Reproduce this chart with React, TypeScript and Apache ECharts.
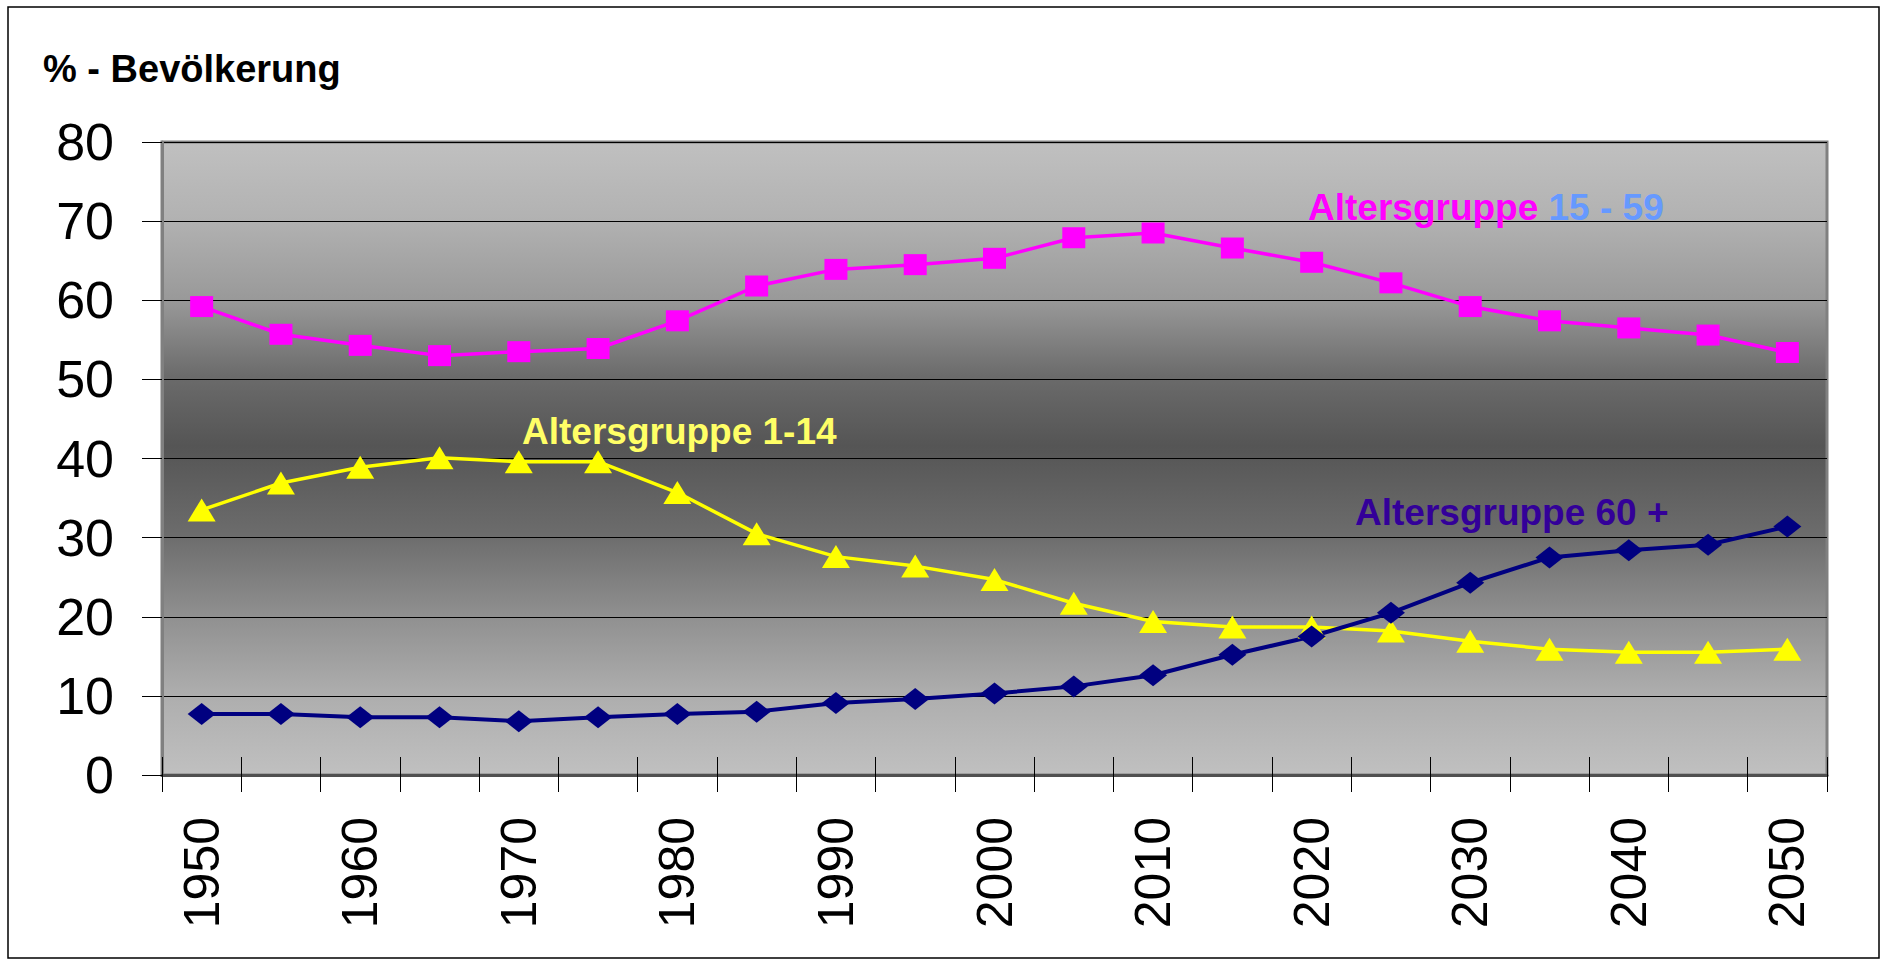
import React, { useEffect, useRef } from "react";
import * as echarts from "echarts";

const years = [
  "1950", "1955", "1960", "1965", "1970", "1975", "1980", "1985", "1990", "1995", "2000",
  "2005", "2010", "2015", "2020", "2025", "2030", "2035", "2040", "2045", "2050",
];
const group15to59 = [
  59.2, 55.7, 54.3, 53.0, 53.5, 53.9, 57.4, 61.8, 63.9, 64.5, 65.3,
  67.9, 68.5, 66.6, 64.8, 62.2, 59.2, 57.4, 56.5, 55.6, 53.4,
];
const group1to14 = [
  33.5, 36.9, 38.9, 40.1, 39.6, 39.6, 35.7, 30.5, 27.6, 26.4, 24.7,
  21.7, 19.4, 18.7, 18.7, 18.2, 16.9, 15.9, 15.5, 15.5, 15.9,
];
const group60plus = [
  7.7, 7.7, 7.3, 7.3, 6.8, 7.3, 7.7, 8.0, 9.1, 9.6, 10.3,
  11.2, 12.6, 15.2, 17.5, 20.5, 24.3, 27.5, 28.4, 29.1, 31.4,
];
const yMin = 0;
const yMax = 80;
const yStep = 10;

const FONT = "'Liberation Sans', Arial, sans-serif";

export default function App() {
  const ref = useRef<HTMLDivElement>(null);
  useEffect(() => {
    const chart = echarts.init(ref.current!, null, { renderer: "svg" });
    chart.setOption({
      animation: false,
      backgroundColor: "#ffffff",
      grid: {
        left: 162,
        top: 142,
        width: 1665,
        height: 633,
        show: true,
        borderColor: "#808080",
        borderWidth: 3,
        backgroundColor: new echarts.graphic.LinearGradient(0, 0, 0, 1, [
          { offset: 0, color: "#c0c0c0" },
          { offset: 0.12, color: "#b2b2b2" },
          { offset: 0.25, color: "#999999" },
          { offset: 0.37, color: "#6b6b6b" },
          { offset: 0.48, color: "#555555" },
          { offset: 0.62, color: "#6c6c6c" },
          { offset: 0.75, color: "#909090" },
          { offset: 0.87, color: "#adadad" },
          { offset: 1, color: "#c0c0c0" },
        ]),
      },
      xAxis: [
        {
          type: "category",
          data: years,
          boundaryGap: true,
          position: "bottom",
          axisLine: { show: true, lineStyle: { color: "#505050", width: 3 } },
          axisTick: { show: true, interval: 0, length: 17, lineStyle: { color: "#000", width: 1 } },
          axisLabel: {
            interval: 1,
            rotate: 90,
            margin: 42,
            fontSize: 50,
            fontFamily: FONT,
            color: "#000",
          },
          splitLine: { show: false },
        },
        {
          type: "category",
          data: years,
          boundaryGap: true,
          position: "bottom",
          axisLine: { show: false },
          axisTick: { show: true, inside: true, interval: 0, length: 18, lineStyle: { color: "#000", width: 1 } },
          axisLabel: { show: false },
          splitLine: { show: false },
        },
      ],
      yAxis: {
        type: "value",
        min: yMin,
        max: yMax,
        interval: yStep,
        axisLine: { show: true, lineStyle: { color: "#808080", width: 3 } },
        axisTick: { show: true, length: 20, lineStyle: { color: "#000", width: 1 } },
        axisLabel: { margin: 48, fontSize: 52, fontFamily: FONT, color: "#000" },
        splitLine: { show: true, lineStyle: { color: "#000", width: 1 } },
      },
      series: [
        {
          name: "Altersgruppe 15 - 59",
          type: "line",
          data: group15to59,
          symbol: "rect",
          symbolSize: [23, 21],
          lineStyle: { color: "#ff00ff", width: 3.5 },
          itemStyle: { color: "#ff00ff" },
        },
        {
          name: "Altersgruppe 1-14",
          type: "line",
          data: group1to14,
          symbol: "triangle",
          symbolSize: [28, 23],
          lineStyle: { color: "#ffff00", width: 3.5 },
          itemStyle: { color: "#ffff00" },
        },
        {
          name: "Altersgruppe 60 +",
          type: "line",
          data: group60plus,
          symbol: "diamond",
          symbolSize: [28, 22],
          lineStyle: { color: "#000080", width: 4 },
          itemStyle: { color: "#000080" },
        },
      ],
      graphic: [
        {
          type: "rect",
          shape: { x: 8, y: 7, width: 1871, height: 951 },
          style: { fill: "none", stroke: "#000", lineWidth: 1.5 },
          silent: true,
        },
        {
          type: "text",
          x: 43,
          y: 69,
          style: {
            text: "% - Bevölkerung",
            font: `bold 38px ${FONT}`,
            fill: "#000",
            verticalAlign: "middle",
          },
        },
        {
          type: "text",
          x: 1308,
          y: 207,
          z: 10,
          style: {
            text: "{a|Altersgruppe }{b|15 - 59}",
            verticalAlign: "middle",
            rich: {
              a: { fontSize: 37, fontWeight: "bold", fontFamily: FONT, fill: "#ff00ff", color: "#ff00ff" },
              b: { fontSize: 37, fontWeight: "bold", fontFamily: FONT, fill: "#6699ff", color: "#6699ff" },
            },
          },
        },
        {
          type: "text",
          x: 522,
          y: 431,
          z: 10,
          style: {
            text: "Altersgruppe 1-14",
            font: `bold 37px ${FONT}`,
            fill: "#ffff66",
            verticalAlign: "middle",
          },
        },
        {
          type: "text",
          x: 1355,
          y: 512,
          z: 10,
          style: {
            text: "Altersgruppe 60 +",
            font: `bold 37px ${FONT}`,
            fill: "#330099",
            verticalAlign: "middle",
          },
        },
      ],
    });
    return () => chart.dispose();
  }, []);
  return (
    <div
      ref={ref}
      style={{ position: "fixed", left: 0, top: 0, width: 1885, height: 962, background: "#fff" }}
    />
  );
}
